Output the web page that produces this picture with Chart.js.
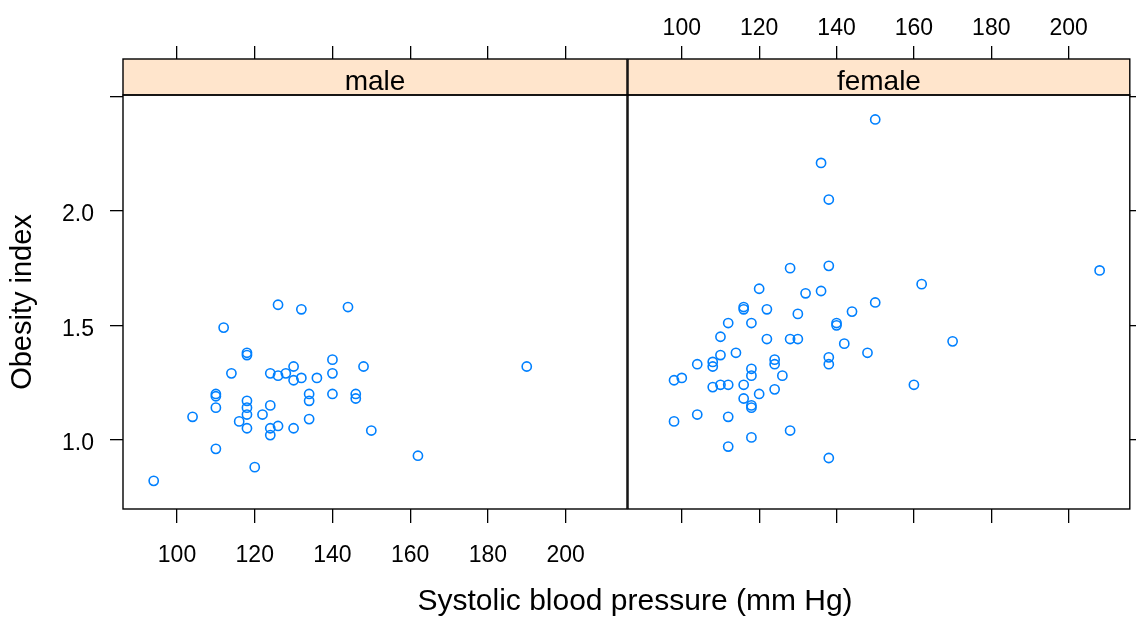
<!DOCTYPE html>
<html>
<head>
<meta charset="utf-8">
<script src="https://cdn.jsdelivr.net/npm/chart.js@4.4.1/dist/chart.umd.min.js"></script>
<style>
  html, body { margin: 0; padding: 0; background: #fff; }
  #wrap { position: relative; width: 1136px; height: 617px; }
  canvas { position: absolute; left: 0; top: 0; }
</style>
</head>
<body>
<div id="wrap">
  <canvas id="maleChart" width="1136" height="617"></canvas>
  <canvas id="femaleChart" width="1136" height="617"></canvas>
</div>
<script>
// panel names, axis ticks and limits
var panelNames = ['male', 'female'];
var xTicks = [100, 120, 140, 160, 180, 200];
var yTicks = [1.0, 1.5, 2.0, 2.5];
var yTickLabels = ['1.0', '1.5', '2.0', ''];
var xLimits = [86.1, 215.8];
var yLimits = [0.697, 2.507];

// systolic bp and obesity index
var maleBP = [126, 132, 144, 112, 118, 118, 140, 148, 114, 124, 126, 128, 130, 130, 132,
  136, 140, 110, 110, 110, 104, 118, 118, 118, 124, 122, 116, 118, 124, 124, 126, 130,
  134, 134, 134, 140, 146, 146, 150, 110, 120, 94, 190, 162];
var maleObese = [1.59, 1.57, 1.58, 1.49, 1.38, 1.37, 1.35, 1.32, 1.29, 1.29, 1.28, 1.29, 1.32, 1.26, 1.27,
  1.27, 1.29, 1.20, 1.19, 1.14, 1.10, 1.17, 1.14, 1.11, 1.15, 1.11, 1.08, 1.05, 1.05, 1.02, 1.06, 1.05,
  1.09, 1.20, 1.17, 1.20, 1.20, 1.18, 1.04, 0.96, 0.88, 0.82, 1.32, 0.93];

var femaleBP = [120, 132, 136, 150, 144, 116, 116, 122, 130, 112, 118, 140, 140, 110, 122,
  128, 130, 142, 148, 114, 110, 104, 108, 108, 124, 124, 138, 138, 118, 118, 126, 98,
  100, 108, 110, 112, 116, 120, 124, 116, 118, 118, 98, 104, 112, 118, 128, 112, 138,
  136, 138, 150, 138, 128, 208, 162, 170, 160];
var femaleObese = [1.66, 1.64, 1.65, 1.60, 1.56, 1.58, 1.57, 1.57, 1.55, 1.51, 1.51, 1.51, 1.50, 1.45, 1.44,
  1.44, 1.44, 1.42, 1.38, 1.38, 1.37, 1.33, 1.34, 1.32, 1.35, 1.33, 1.36, 1.33, 1.31, 1.28, 1.28, 1.26,
  1.27, 1.23, 1.24, 1.24, 1.24, 1.20, 1.22, 1.18, 1.15, 1.14, 1.08, 1.11, 1.10, 1.01, 1.04, 0.97, 0.92,
  2.21, 2.05, 2.40, 1.76, 1.75, 1.74, 1.68, 1.43, 1.24];

var ink = '#000000';
var symbolColor = '#0080ff';
var stripColor = '#ffe5cc';
var fontFamily = '"Liberation Sans", Arial, Helvetica, sans-serif';

function toPoints(xs, ys) {
  return xs.map(function (x, i) { return { x: x, y: ys[i] }; });
}

function fixWidth(w) { return function (scale) { scale.width = w; }; }
function fixHeight(h) { return function (scale) { scale.height = h; }; }
function useTicks(values) {
  return function (scale) {
    scale.ticks = values.map(function (v) { return { value: v }; });
  };
}

function gridStyle(len) {
  return {
    drawOnChartArea: false,
    drawTicks: true,
    tickLength: len,
    color: ink,
    tickColor: ink,
    lineWidth: 1.3,
    tickWidth: 1.3
  };
}

function xAxis(pos, size, len, showLabels, pad) {
  return {
    type: 'linear',
    position: pos,
    min: xLimits[0],
    max: xLimits[1],
    afterBuildTicks: useTicks(xTicks),
    afterFit: fixHeight(size),
    border: { display: false },
    grid: gridStyle(len),
    ticks: {
      display: showLabels,
      padding: pad,
      maxRotation: 0,
      color: ink,
      font: { family: fontFamily, size: 23 },
      callback: function (v) { return String(v); }
    }
  };
}

function yAxis(pos, size, showLabels) {
  return {
    type: 'linear',
    position: pos,
    min: yLimits[0],
    max: yLimits[1],
    afterBuildTicks: useTicks(yTicks),
    afterFit: fixWidth(size),
    border: { display: false },
    grid: gridStyle(13),
    title: {
      display: showLabels,
      text: 'Obesity index',
      color: ink,
      font: { family: fontFamily, size: 29 },
      padding: { top: 6, bottom: 0 }
    },
    ticks: {
      display: showLabels,
      padding: 16,
      labelOffset: 4,
      color: ink,
      font: { family: fontFamily, size: 23 },
      callback: function (v) { return yTickLabels[yTicks.indexOf(v)]; }
    }
  };
}

// panel frame + strip on top of the panel
var stripPlugin = {
  id: 'strip',
  afterDraw: function (chart, args, opts) {
    var a = chart.chartArea;
    var ctx = chart.ctx;
    ctx.save();
    ctx.fillStyle = stripColor;
    ctx.fillRect(a.left, 59, a.right - a.left, a.top - 59);
    ctx.strokeStyle = ink;
    ctx.lineWidth = 1.4;
    ctx.strokeRect(a.left, 59, a.right - a.left, a.top - 59);
    ctx.strokeRect(a.left, a.top, a.right - a.left, a.bottom - a.top);
    ctx.fillStyle = ink;
    ctx.font = '28px ' + fontFamily;
    ctx.textAlign = 'center';
    ctx.textBaseline = 'alphabetic';
    ctx.fillText(opts.label, (a.left + a.right) / 2, 89.5);
    if (opts.xTitle) {
      ctx.font = '30px ' + fontFamily;
      ctx.fillText(opts.xTitle, 635, 610);
    }
    ctx.restore();
  }
};

function panel(canvasId, name, xs, ys, isLeft) {
  var scales;
  if (isLeft) {
    scales = {
      x: xAxis('bottom', 108, 14, true, 19),
      xTop: xAxis('top', 95, 49, false, 4),
      y: yAxis('left', 123, true)
    };
  } else {
    scales = {
      x: xAxis('bottom', 108, 14, false, 19),
      xTop: xAxis('top', 95, 49, true, 4),
      y: yAxis('right', 4, false)
    };
  }
  return new Chart(document.getElementById(canvasId), {
    type: 'scatter',
    data: {
      datasets: [{
        label: name,
        data: toPoints(xs, ys),
        xAxisID: 'x',
        yAxisID: 'y',
        pointStyle: 'circle',
        pointRadius: 4.6,
        pointBorderWidth: 1.6,
        borderColor: symbolColor,
        pointBackgroundColor: 'rgba(0,0,0,0)',
        backgroundColor: 'rgba(0,0,0,0)'
      }]
    },
    options: {
      responsive: false,
      maintainAspectRatio: false,
      animation: false,
      layout: {
        padding: isLeft ? { left: 0, top: 0, right: 509, bottom: 0 }
                        : { left: 628, top: 0, right: 0, bottom: 0 }
      },
      scales: scales,
      plugins: {
        legend: { display: false },
        tooltip: { enabled: false },
        strip: {
          label: name,
          xTitle: isLeft ? 'Systolic blood pressure (mm Hg)' : null
        }
      }
    },
    plugins: [stripPlugin]
  });
}

panel('maleChart', panelNames[0], maleBP, maleObese, true);
panel('femaleChart', panelNames[1], femaleBP, femaleObese, false);
</script>
</body>
</html>
